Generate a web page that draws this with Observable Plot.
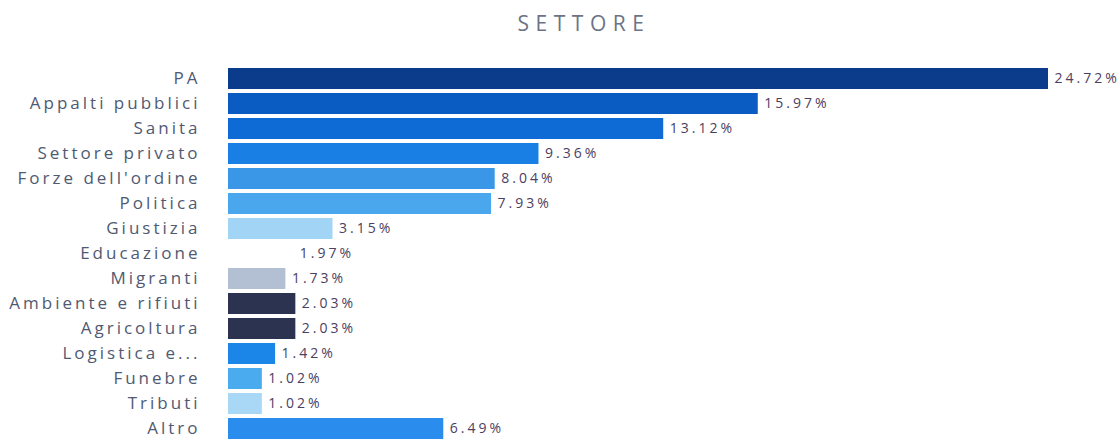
<!DOCTYPE html>
<html><head><meta charset="utf-8">
<script src="https://cdn.jsdelivr.net/npm/d3@7"></script>
<script src="https://cdn.jsdelivr.net/npm/@observablehq/plot@0.6"></script>
<style>
html,body{margin:0;padding:0;background:#fff;overflow:hidden;}
#title{height:45px;line-height:46px;text-align:center;font-family:"Open Sans",sans-serif;font-size:21px;letter-spacing:6.5px;color:#6b7385;padding-left:48px;}
svg{display:block;}
</style></head><body>
<div id="title">SETTORE</div>
<div id="chart"></div>
<script>
const categories = ["PA","Appalti pubblici","Sanita","Settore privato","Forze dell'ordine","Politica","Giustizia","Educazione","Migranti","Ambiente e rifiuti","Agricoltura","Logistica e...","Funebre","Tributi","Altro"];
const values = [24.72,15.97,13.12,9.36,8.04,7.93,3.15,1.97,1.73,2.03,2.03,1.42,1.02,1.02,6.49];
const valueLabels = ["24.72%","15.97%","13.12%","9.36%","8.04%","7.93%","3.15%","1.97%","1.73%","2.03%","2.03%","1.42%","1.02%","1.02%","6.49%"];
const colors = ["#0b3c8c","#0a5cc2","#0e6bd6","#1a7fe4","#3a97e8","#4aa6ed","#a2d4f6","#ffffff","#b3c0d4","#2b3350","#2b3350","#1b86e8","#4aabee","#a8d8f6","#2a8cec"];
const data = categories.map((c,i)=>({cat:c, v:values[i], lab:valueLabels[i], col:colors[i]}));
const chart = Plot.plot({
  width:1120, height:400,
  marginLeft:228, marginRight:72, marginTop:19, marginBottom:3,
  x:{domain:[0,24.72], axis:null},
  y:{domain:categories, paddingInner:0.16, paddingOuter:0.08, label:null, tickSize:0, tickPadding:28},
  style:{fontFamily:"'Open Sans',sans-serif", background:"#fff"},
  marks:[
    Plot.barX(data,{y:"cat", x:"v", fill:"col"}),
    Plot.text(data,{y:"cat", x:"v", text:"lab", dx:6, textAnchor:"start", fontSize:14, fill:"#4b4062"}),
    Plot.axisY({tickSize:0, tickPadding:28, fontSize:17, color:"#4f5a72"})
  ]
});
d3.select(chart).selectAll("g[aria-label='y-axis tick label']").style("letter-spacing","3px");
d3.select(chart).selectAll("g[aria-label='text']").style("letter-spacing","3px");
document.getElementById("chart").appendChild(chart);
</script>
</body></html>
